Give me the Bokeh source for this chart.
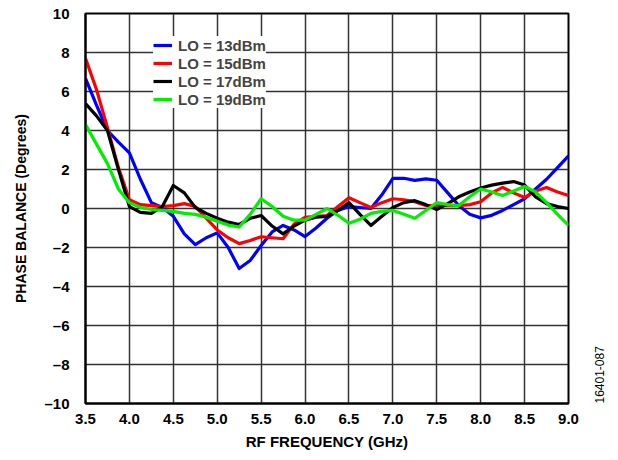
import math
from bokeh.plotting import figure
from bokeh.models import (FixedTicker, CustomJSTickFormatter, Legend, LegendItem,
                          LinearAxis, Range1d)
from bokeh.embed import file_html
from bokeh.resources import INLINE

freq = [3.5, 3.625, 3.75, 3.875, 4.0, 4.125, 4.25, 4.375, 4.5, 4.625, 4.75, 4.875,
        5.0, 5.125, 5.25, 5.375, 5.5, 5.625, 5.75, 5.875, 6.0, 6.125, 6.25, 6.375,
        6.5, 6.625, 6.75, 6.875, 7.0, 7.125, 7.25, 7.375, 7.5, 7.625, 7.75, 7.875,
        8.0, 8.125, 8.25, 8.375, 8.5, 8.625, 8.75, 8.875, 9.0]

lo_13dbm = [6.67, 5.3, 4.0, 3.4, 2.85, 1.5, 0.3, 0.05, -0.4, -1.3, -1.85, -1.5,
            -1.25, -2.0, -3.08, -2.67, -1.9, -1.2, -0.87, -1.1, -1.44, -1.0, -0.5, -0.1,
            0.1, 0.05, 0.0, 0.7, 1.55, 1.55, 1.44, 1.52, 1.45, 0.8, 0.15, -0.3,
            -0.48, -0.35, -0.1, 0.2, 0.5, 1.0, 1.5, 2.1, 2.7]

lo_15dbm = [7.7, 6.1, 4.15, 2.1, 0.45, 0.2, 0.15, 0.1, 0.15, 0.25, 0.1, -0.5,
            -1.1, -1.5, -1.8, -1.64, -1.45, -1.5, -1.55, -0.8, -0.45, -0.4, -0.36, 0.1,
            0.55, 0.3, 0.05, 0.3, 0.5, 0.45, 0.35, 0.15, 0.15, 0.15, 0.15, 0.2,
            0.35, 0.8, 1.08, 0.8, 0.56, 0.9, 1.08, 0.85, 0.67]

lo_17dbm = [5.38, 4.75, 4.0, 2.0, 0.1, -0.2, -0.25, 0.1, 1.18, 0.8, 0.05, -0.25,
            -0.5, -0.7, -0.82, -0.5, -0.36, -0.9, -1.3, -0.9, -0.6, -0.45, -0.4, -0.1,
            0.3, -0.3, -0.87, -0.4, 0.05, 0.3, 0.4, 0.2, -0.05, 0.25, 0.6, 0.85,
            1.05, 1.2, 1.3, 1.38, 1.2, 0.6, 0.25, 0.1, 0.0]

lo_19dbm = [4.3, 3.3, 2.3, 1.0, 0.3, 0.05, -0.05, -0.1, -0.15, -0.25, -0.3, -0.45,
            -0.65, -0.85, -0.95, -0.3, 0.5, 0.1, -0.4, -0.6, -0.6, -0.3, 0.0, -0.35,
            -0.76, -0.55, -0.25, -0.15, -0.1, -0.3, -0.5, -0.1, 0.3, 0.2, 0.15, 0.6,
            1.0, 0.85, 0.67, 0.9, 1.13, 0.85, 0.3, -0.3, -0.87]

series_labels = ["LO = 13dBm", "LO = 15dBm", "LO = 17dBm", "LO = 19dBm"]
series_colors = ["#0000ff", "#ff0000", "#000000", "#00ee00"]
x_ticks = [3.5, 4.0, 4.5, 5.0, 5.5, 6.0, 6.5, 7.0, 7.5, 8.0, 8.5, 9.0]
y_ticks = [-10, -8, -6, -4, -2, 0, 2, 4, 6, 8, 10]
figure_code = "16401-087"

FONT = "Liberation Sans"

p = figure(width=612, height=455, output_backend="svg", toolbar_location=None,
           x_range=Range1d(3.5, 9.0), y_range=Range1d(-10, 10),
           min_border_left=85, min_border_right=44, min_border_top=13,
           min_border_bottom=52)

renderers = []
for ys, c in zip([lo_13dbm, lo_15dbm, lo_17dbm, lo_19dbm], series_colors):
    r = p.line(freq, ys, line_color=c, line_width=3.2, line_join="round")
    renderers.append(r)

p.xaxis.ticker = FixedTicker(ticks=x_ticks)
p.yaxis.ticker = FixedTicker(ticks=y_ticks)
p.xaxis.formatter = CustomJSTickFormatter(code="return tick.toFixed(1);")
p.yaxis.formatter = CustomJSTickFormatter(
    code="return tick < 0 ? '\u2013' + Math.abs(tick) : tick.toString();")

for ax in (p.xaxis, p.yaxis):
    ax.major_tick_out = 0
    ax.major_tick_in = 0
    ax.minor_tick_out = 0
    ax.minor_tick_in = 0
    ax.axis_line_color = "black"
    ax.axis_line_width = 2
    ax.major_label_text_font = FONT
    ax.major_label_text_font_style = "bold"
    ax.major_label_text_font_size = "15px"
    ax.major_label_text_color = "black"
    ax.axis_label_text_font = FONT
    ax.axis_label_text_font_style = "bold"
    ax.axis_label_text_color = "black"

p.xaxis.axis_label = "RF FREQUENCY (GHz)"
p.yaxis.axis_label = "PHASE BALANCE (Degrees)"
p.xaxis.axis_label_text_font_size = "15px"
p.yaxis.axis_label_text_font_size = "14px"
p.xaxis.major_label_standoff = 10
p.xaxis.axis_label_standoff = 6
p.yaxis.major_label_standoff = 16
p.yaxis.axis_label_standoff = 12

p.xgrid.grid_line_color = "#333333"
p.ygrid.grid_line_color = "#333333"
p.xgrid.grid_line_width = 1.5
p.ygrid.grid_line_width = 1.5
p.outline_line_color = "black"
p.outline_line_width = 2
p.outline_line_alpha = 1

legend = Legend(items=[LegendItem(label=l, renderers=[r]) for l, r in zip(series_labels, renderers)],
                location=(68, 295), orientation="vertical")
legend.label_text_font = FONT
legend.label_text_font_style = "bold"
legend.label_text_font_size = "15px"
legend.label_height = 18
legend.glyph_height = 18
legend.glyph_width = 19
legend.label_standoff = 6
legend.spacing = 0
legend.padding = 4
legend.margin = 0
legend.border_line_color = None
legend.background_fill_color = "white"
legend.background_fill_alpha = 1
p.add_layout(legend, "center")

# figure code on the right, reading bottom-to-top, near the bottom
code_axis = LinearAxis(ticker=FixedTicker(ticks=[]), axis_line_color=None,
                       major_tick_line_color=None, minor_tick_line_color=None,
                       axis_label=figure_code, axis_label_text_font=FONT,
                       axis_label_text_font_size="12px",
                       axis_label_text_font_style="normal",
                       axis_label_text_color="black",
                       axis_label_standoff=31,
                       axis_label_orientation=math.pi / 2,
                       axis_label_align="start")
p.add_layout(code_axis, "right")

open("out.html", "w").write(file_html(p, INLINE))
